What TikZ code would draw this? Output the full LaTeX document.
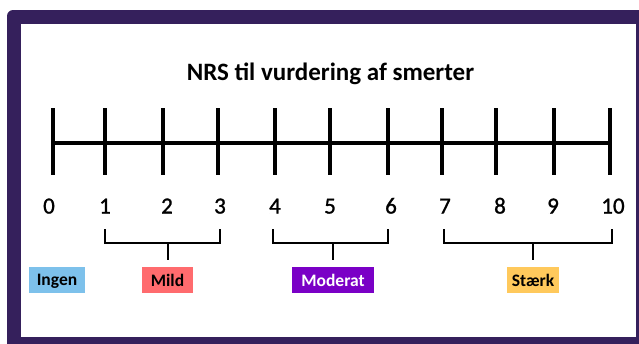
\documentclass[tikz,border=0pt]{standalone}
\usepackage{fontspec}
\setmainfont{Carlito}
\newfontfamily\numfont[FakeBold=1.2]{Carlito}
\definecolor{framepurple}{HTML}{35205C}
\definecolor{ingenblue}{HTML}{7DC1EB}
\definecolor{mildred}{HTML}{FF6B6E}
\definecolor{moderatpurple}{HTML}{7A00C6}
\definecolor{staerkyellow}{HTML}{FFC95C}
\tikzset{
  scaleline/.style={line width=4pt, black},
  bracketline/.style={line width=2pt, black},
  num/.style={font=\numfont\fontsize{23}{25}\selectfont, anchor=base, inner sep=0pt},
  level/.style={font=\fontsize{17.5}{18}\selectfont\bfseries, minimum height=26pt, inner sep=0pt, text depth=0pt},
}
\begin{document}
\begin{tikzpicture}[x=1pt, y=-1pt]
  \useasboundingbox (0,0) rectangle (639,343);
  % frame
  \fill[framepurple, rounded corners=6pt] (7,10) rectangle (660,360);
  \fill[white] (21,24) rectangle (636,337);
  % title
  \node[font=\fontsize{25}{28}\selectfont\bfseries, anchor=base, inner sep=0pt] (title) at (330.5,80) {NRS til vurdering af smerter};
  % scale line with ticks
  \draw[scaleline] (53,143) -- (610,143);
  \foreach \x in {53,105,163,218,275,330,388,442,496,554,610}
    \draw[scaleline] (\x,108) -- (\x,175);
  % numbers
  \foreach \n/\x in {0/49,1/105,2/167,3/220,4/275,5/330,6/391,7/445,8/500,9/553,10/613}
    \node[num] (n\n) at (\x,213.5) {\n};
  % level labels
  \node[level, fill=ingenblue, minimum width=56pt] (ingen) at (57,280) {Ingen};
  \node[level, fill=mildred, minimum width=51pt] (mild) at (167.5,280) {Mild};
  \node[level, fill=moderatpurple, text=white, minimum width=82pt] (moderat) at (333,280) {Moderat};
  \node[level, fill=staerkyellow, minimum width=52pt] (staerk) at (533,280) {Stærk};
  % brackets grouping the numbers
  \draw[bracketline] (105,229) -- (105,243) -- (220,243) -- (220,229);
  \draw[bracketline] (mild.north |- 0,243) -- (mild.north |- 0,260);
  \draw[bracketline] (273,229) -- (273,243) -- (388,243) -- (388,229);
  \draw[bracketline] (moderat.north |- 0,243) -- (moderat.north |- 0,260);
  \draw[bracketline] (444,229) -- (444,243) -- (612,243) -- (612,229);
  \draw[bracketline] (staerk.north |- 0,243) -- (staerk.north |- 0,260);
\end{tikzpicture}
\end{document}
